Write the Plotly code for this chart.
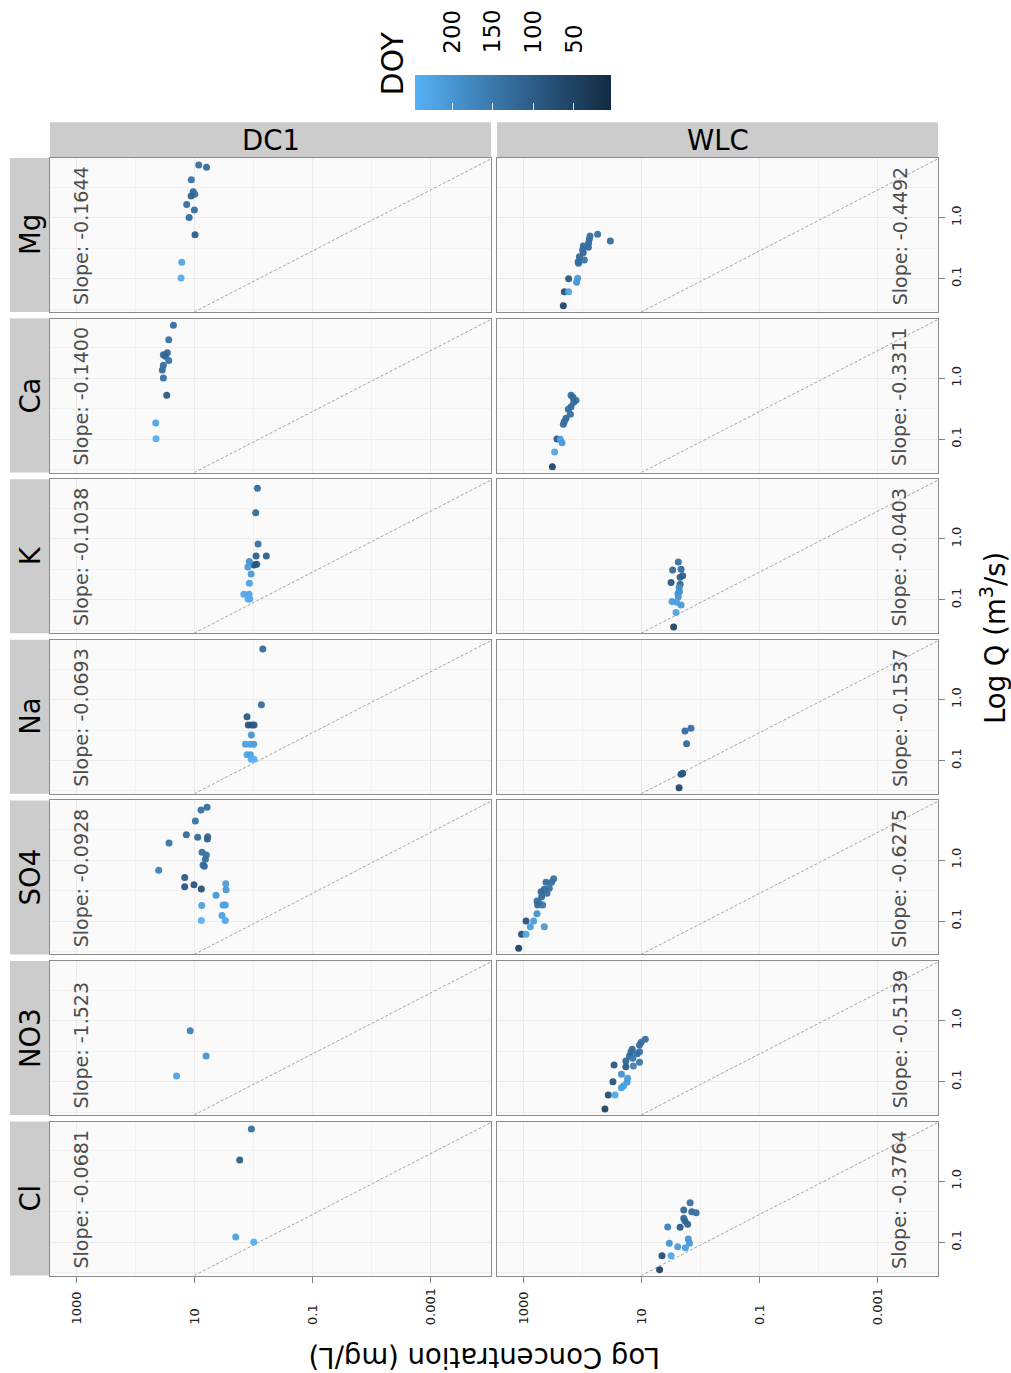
import math
import plotly.graph_objects as go

W, H = 1011, 1373
FONT = "DejaVu Sans"

# ---------------- data ----------------
ELEMENTS = ["Mg", "Ca", "K", "Na", "SO4", "NO3", "Cl"]   # top to bottom
SITES = ["DC1", "WLC"]                                   # left to right

DC1_MG_CONC = [8.4, 6.2, 11.2, 10.4, 9.8, 11.3, 13.4, 9.95, 12.2, 9.7, 16.3, 16.7]
DC1_MG_Q    = [7.31, 6.70, 4.21, 2.67, 2.42, 2.27, 1.64, 1.34, 1.01, 0.527, 0.186, 0.103]
DC1_MG_DOY  = [135, 130, 140, 125, 135, 110, 135, 130, 130, 105, 225, 240]

DC1_CA_CONC = [22.5, 27.0, 28.5, 33.3, 30.8, 27.0, 33.3, 34.7, 33.3, 29.2, 44.8, 44.3]
DC1_CA_Q    = [7.4, 4.3, 2.63, 2.44, 2.3, 1.95, 1.63, 1.37, 1.01, 0.527, 0.185, 0.102]
DC1_CA_DOY  = [130, 140, 125, 130, 115, 140, 135, 130, 135, 100, 220, 240]

DC1_K_CONC = [0.855, 0.912, 0.832, 0.603, 0.90, 0.877, 0.973, 1.17, 1.24, 1.09, 1.17, 1.45, 1.18, 1.23, 1.15]
DC1_K_Q    = [6.76, 2.69, 0.826, 0.525, 0.525, 0.384, 0.374, 0.425, 0.347, 0.266, 0.187, 0.124, 0.124, 0.103, 0.103]
DC1_K_DOY  = [130, 125, 135, 110, 105, 90, 85, 190, 210, 205, 220, 225, 220, 240, 235]

DC1_NA_CONC = [0.693, 0.731, 1.28, 1.22, 1.06, 0.973, 1.08, 1.36, 1.14, 0.984, 1.28, 1.12, 1.08, 0.973]
DC1_NA_Q    = [6.73, 0.822, 0.524, 0.382, 0.382, 0.382, 0.262, 0.185, 0.185, 0.185, 0.124, 0.124, 0.105, 0.105]
DC1_NA_DOY  = [130, 135, 100, 90, 85, 95, 200, 215, 220, 210, 225, 220, 240, 245]

DC1_SO4_CONC = [6.07, 7.67, 9.57, 13.6, 8.73, 5.92, 6.0, 26.7, 7.38, 6.24, 6.49, 7.1, 6.75, 39.9,
                14.5, 14.5, 10.1, 7.59, 2.93, 2.9, 4.28, 7.46, 3.26, 2.98, 3.39, 7.59, 2.98]
DC1_SO4_Q    = [7.35, 6.64, 4.38, 2.61, 2.37, 2.42, 2.22, 1.91, 1.34, 1.21, 1.03, 0.83, 0.79, 0.68,
                0.52, 0.366, 0.395, 0.337, 0.41, 0.327, 0.265, 0.18, 0.184, 0.184, 0.123, 0.102, 0.102]
DC1_SO4_DOY  = [130, 135, 140, 125, 130, 130, 110, 140, 135, 140, 135, 135, 130, 165,
                100, 90, 85, 80, 210, 205, 200, 215, 215, 220, 220, 246, 230]

DC1_NO3_CONC = [11.7, 6.3, 19.9]
DC1_NO3_Q    = [0.687, 0.264, 0.124]
DC1_NO3_DOY  = [165, 200, 220]

DC1_CL_CONC = [1.08, 1.70, 1.99, 0.984]
DC1_CL_Q    = [7.21, 2.23, 0.122, 0.101]
DC1_CL_DOY  = [135, 105, 220, 240]

WLC_MG_CONC = [54.7, 33.3, 73.5, 75.5, 77.6, 78.5, 95.5, 98.2, 95.5, 111, 91.8, 117, 115,
               169, 119, 124, 200, 169, 208]
WLC_MG_Q    = [0.535, 0.415, 0.501, 0.448, 0.389, 0.327, 0.344, 0.296, 0.267, 0.23, 0.203, 0.19, 0.179,
               0.100, 0.102, 0.0873, 0.0612, 0.0612, 0.0361]
WLC_MG_DOY  = [135, 130, 135, 140, 130, 125, 130, 135, 130, 125, 140, 130, 135,
               95, 210, 200, 80, 225, 60]

WLC_CA_CONC = [154, 143, 127, 139, 154, 171, 158, 187, 200, 208, 266, 234, 219, 292, 319]
WLC_CA_Q    = [0.527, 0.489, 0.437, 0.405, 0.343, 0.31, 0.257, 0.221, 0.195, 0.176, 0.101, 0.100, 0.0881, 0.0619, 0.0356]
WLC_CA_DOY  = [135, 130, 140, 130, 125, 130, 135, 125, 130, 135, 90, 215, 205, 225, 60]

WLC_K_CONC = [2.36, 2.94, 2.12, 1.99, 2.2, 3.13, 2.2, 2.29, 2.26, 2.4, 2.36, 3.01, 2.52, 2.12, 2.58, 2.83]
WLC_K_Q    = [0.419, 0.309, 0.318, 0.249, 0.235, 0.192, 0.181, 0.158, 0.137, 0.126, 0.113, 0.0938, 0.0916, 0.0828, 0.0619, 0.0361]
WLC_K_DOY  = [135, 125, 130, 110, 105, 95, 120, 185, 190, 195, 200, 210, 215, 205, 220, 60]

WLC_NA_CONC = [1.44, 1.82, 1.71, 1.99, 2.12, 2.29]
WLC_NA_Q    = [0.337, 0.305, 0.189, 0.0617, 0.0594, 0.0358]
WLC_NA_DOY  = [135, 130, 125, 85, 90, 60]

WLC_SO4_CONC = [303, 328, 408, 359, 437, 393, 495, 484, 579, 530, 466, 566, 579, 889, 662, 752, 437,
                1057, 889, 1186]
WLC_SO4_Q    = [0.496, 0.433, 0.433, 0.345, 0.333, 0.286, 0.303, 0.251, 0.214, 0.196, 0.184, 0.184,
                0.132, 0.100, 0.100, 0.081, 0.081, 0.0608, 0.0608, 0.0358]
WLC_SO4_DOY  = [140, 135, 130, 140, 130, 135, 125, 130, 135, 140, 150, 130, 190, 85, 210, 215, 205,
                70, 225, 55]

WLC_NO3_CONC = [8.55, 10.0, 10.7, 14.2, 14.9, 10.7, 11.7, 15.8, 13.9, 18.2, 10.7, 28.8, 18.2, 13.6,
                21.6, 17.0, 17.4, 19.9, 21.6, 30.1, 36.1, 27.7, 41.1]
WLC_NO3_Q    = [0.496, 0.443, 0.40, 0.34, 0.31, 0.31, 0.288, 0.264, 0.242, 0.219, 0.208, 0.188, 0.176, 0.181,
                0.132, 0.114, 0.0977, 0.0861, 0.0798, 0.100, 0.0605, 0.0605, 0.0357]
WLC_NO3_DOY  = [135, 140, 130, 125, 130, 140, 135, 120, 145, 115, 150, 95, 100, 165,
                190, 210, 205, 215, 210, 85, 75, 225, 55]

WLC_CL_CONC = [1.49, 1.91, 1.40, 1.18, 1.91, 1.82, 1.64, 2.2, 3.57, 1.60, 1.53, 3.35, 2.42, 1.79, 4.45, 3.13, 4.89]
WLC_CL_Q    = [0.446, 0.339, 0.318, 0.306, 0.247, 0.224, 0.197, 0.176, 0.178, 0.113, 0.0964, 0.0964,
               0.0847, 0.0817, 0.0604, 0.0604, 0.0356]
WLC_CL_DOY  = [135, 125, 130, 135, 130, 120, 115, 100, 165, 195, 205, 200, 210, 215, 75, 230, 50]

SLOPES_DC1 = ["-0.1644", "-0.1400", "-0.1038", "-0.0693", "-0.0928", "-1.523", "-0.0681"]
SLOPES_WLC = ["-0.4492", "-0.3311", "-0.0403", "-0.1537", "-0.6275", "-0.5139", "-0.3764"]

CONC_TICKS = [1000, 10, 0.1, 0.001]
CONC_TICK_TEXT = ["1000", "10", "0.1", "0.001"]
CONC_MINOR = [100, 1, 0.01]
Q_TICKS = [0.1, 1.0]
Q_TICK_TEXT = ["0.1", "1.0"]
Q_MINOR = [10 ** -1.5, 10 ** -0.5, 10 ** 0.5]
DOY_TICKS = [200, 150, 100, 50]
DOY_LIMITS = [4, 246]
REF_LOG_INTERCEPT = -2.09   # reference line: log10(C) = a + b*log10(Q)
REF_LOG_SLOPE = -2.0

DATA = {
    ("DC1", "Mg"): (DC1_MG_CONC, DC1_MG_Q, DC1_MG_DOY),
    ("DC1", "Ca"): (DC1_CA_CONC, DC1_CA_Q, DC1_CA_DOY),
    ("DC1", "K"): (DC1_K_CONC, DC1_K_Q, DC1_K_DOY),
    ("DC1", "Na"): (DC1_NA_CONC, DC1_NA_Q, DC1_NA_DOY),
    ("DC1", "SO4"): (DC1_SO4_CONC, DC1_SO4_Q, DC1_SO4_DOY),
    ("DC1", "NO3"): (DC1_NO3_CONC, DC1_NO3_Q, DC1_NO3_DOY),
    ("DC1", "Cl"): (DC1_CL_CONC, DC1_CL_Q, DC1_CL_DOY),
    ("WLC", "Mg"): (WLC_MG_CONC, WLC_MG_Q, WLC_MG_DOY),
    ("WLC", "Ca"): (WLC_CA_CONC, WLC_CA_Q, WLC_CA_DOY),
    ("WLC", "K"): (WLC_K_CONC, WLC_K_Q, WLC_K_DOY),
    ("WLC", "Na"): (WLC_NA_CONC, WLC_NA_Q, WLC_NA_DOY),
    ("WLC", "SO4"): (WLC_SO4_CONC, WLC_SO4_Q, WLC_SO4_DOY),
    ("WLC", "NO3"): (WLC_NO3_CONC, WLC_NO3_Q, WLC_NO3_DOY),
    ("WLC", "Cl"): (WLC_CL_CONC, WLC_CL_Q, WLC_CL_DOY),
}
SLOPES = {"DC1": SLOPES_DC1, "WLC": SLOPES_WLC}

# ---------------- layout geometry (pixels) ----------------
COL_X = [(50, 491), (497, 938)]
ROW_TOP0, ROW_PITCH, ROW_H = 158.0, 160.6, 154.0
TOP_STRIP = (122.3, 158.0)
LEFT_STRIP = (10.0, 50.0)
X_RANGE = [3.44, -4.02]      # log10 concentration (reversed)
Y_RANGE = [-1.546, 0.979]    # log10 Q
SLOPE_X = {"DC1": 2.915, "WLC": -3.367}
CBAR_X = (415.0, 611.0)      # colour bar left/right edge
CBAR_Y = (74.3, 109.3)       # colour bar top/bottom edge
CBAR_SHIFT = 8.0             # plotly's own offset of a horizontal colour bar
CBAR_LABEL_BOTTOM = 55.5

COLORSCALE = [[0.0, "#56B1F7"], [0.25, "#448DC6"], [0.5, "#336A98"],
              [0.75, "#23496D"], [1.0, "#132B43"]]

GRID = "#EBEBEB"
MINOR_GRID = "#F1F1F1"
BORDER = "#8C8C8C"
STRIP_BG = "#CCCCCC"


def fx(px):
    return px / W


def fy(py):
    return 1 - py / H


fig = go.Figure()
annotations = []
shapes = []
layout = {}

for r, el in enumerate(ELEMENTS):
    top = ROW_TOP0 + r * ROW_PITCH
    bot = top + ROW_H
    for c, site in enumerate(SITES):
        idx = r * 2 + c + 1
        sfx = "" if idx == 1 else str(idx)
        xa, ya = "x" + sfx, "y" + sfx
        conc, q, doy = DATA[(site, el)]

        # reference dashed line across the Q range
        q_ends = [10 ** Y_RANGE[0], 10 ** Y_RANGE[1]]
        c_ends = [10 ** (REF_LOG_INTERCEPT + REF_LOG_SLOPE * math.log10(v)) for v in q_ends]
        fig.add_trace(go.Scatter(x=c_ends, y=q_ends, mode="lines", xaxis=xa, yaxis=ya,
                                 line=dict(color="#A3A3A3", width=1, dash="3px,2px"),
                                 hoverinfo="skip", showlegend=False))
        fig.add_trace(go.Scatter(x=conc, y=q, mode="markers", xaxis=xa, yaxis=ya,
                                 marker=dict(size=7, color=[-d for d in doy], coloraxis="coloraxis",
                                             opacity=0.95, line=dict(width=0)),
                                 showlegend=False))

        x0, x1 = COL_X[c]
        bottom_row = r == len(ELEMENTS) - 1
        layout["xaxis" + sfx] = dict(
            type="log", range=X_RANGE, domain=[fx(x0), fx(x1)], anchor=ya,
            tickvals=CONC_TICKS, showticklabels=False,
            ticks="outside" if bottom_row else "", ticklen=6, tickcolor="#7F7F7F", tickwidth=1,
            showgrid=True, gridcolor=GRID, gridwidth=1,
            minor=dict(tickvals=CONC_MINOR, showgrid=True, gridcolor=MINOR_GRID, ticks=""),
            showline=True, mirror=True, linecolor=BORDER, linewidth=1.2, zeroline=False,
        )
        layout["yaxis" + sfx] = dict(
            type="log", range=Y_RANGE, domain=[fy(bot), fy(top)], anchor=xa,
            tickvals=Q_TICKS, ticktext=Q_TICK_TEXT, side="right" if c == 1 else "left",
            showticklabels=(c == 1), tickangle=-90,
            tickfont=dict(family=FONT, size=13, color="#222222"),
            ticks="outside" if c == 1 else "", ticklen=6, tickcolor="#7F7F7F", tickwidth=1,
            showgrid=True, gridcolor=GRID, gridwidth=1,
            minor=dict(tickvals=Q_MINOR, showgrid=True, gridcolor=MINOR_GRID, ticks=""),
            showline=True, mirror=True, linecolor=BORDER, linewidth=1.2, zeroline=False,
        )

        # slope label
        annotations.append(dict(
            text="Slope: " + SLOPES[site][r], xref=xa, yref=ya + " domain",
            x=SLOPE_X[site], y=0.03, xanchor="center", yanchor="bottom",
            textangle=-90, showarrow=False,
            font=dict(family=FONT, size=19, color="#4D4D4D")))

        # bottom tick labels (concentration)
        if bottom_row:
            for v, t in zip(CONC_TICKS, CONC_TICK_TEXT):
                annotations.append(dict(
                    text=t, xref=xa, yref="paper", x=math.log10(v), y=fy(1327),
                    xanchor="center", yanchor="bottom", textangle=-90, showarrow=False,
                    font=dict(family=FONT, size=13, color="#222222")))

    # left strip for element
    shapes.append(dict(type="rect", xref="paper", yref="paper", layer="below",
                       x0=fx(LEFT_STRIP[0]), x1=fx(LEFT_STRIP[1]), y0=fy(bot), y1=fy(top),
                       fillcolor=STRIP_BG, line=dict(width=0)))
    annotations.append(dict(text=el, xref="paper", yref="paper",
                            x=fx(sum(LEFT_STRIP) / 2), y=fy((top + bot) / 2),
                            xanchor="center", yanchor="middle", textangle=-90, showarrow=False,
                            font=dict(family=FONT, size=27.5, color="black")))

# top strips for sites
for c, site in enumerate(SITES):
    x0, x1 = COL_X[c]
    shapes.append(dict(type="rect", xref="paper", yref="paper", layer="below",
                       x0=fx(x0), x1=fx(x1), y0=fy(TOP_STRIP[1]), y1=fy(TOP_STRIP[0]),
                       fillcolor=STRIP_BG, line=dict(width=0)))
    annotations.append(dict(text=site, xref="paper", yref="paper",
                            x=fx((x0 + x1) / 2), y=fy(sum(TOP_STRIP) / 2),
                            xanchor="center", yanchor="middle", showarrow=False,
                            font=dict(family=FONT, size=27.5, color="black")))

# axis titles
annotations.append(dict(text="Log Q (m<sup>3</sup>/s)", xref="paper", yref="paper",
                        x=fx(993), y=fy(638), xanchor="center", yanchor="middle",
                        textangle=-90, showarrow=False,
                        font=dict(family=FONT, size=27.5, color="black")))
annotations.append(dict(text="Log Concentration (mg/L)", xref="paper", yref="paper",
                        x=fx(485), y=fy(1358), xanchor="center", yanchor="middle",
                        textangle=180, showarrow=False,
                        font=dict(family=FONT, size=27.5, color="black")))
# colour bar title
annotations.append(dict(text="DOY", xref="paper", yref="paper",
                        x=fx(391.5), y=fy(64), xanchor="center", yanchor="middle",
                        textangle=-90, showarrow=False,
                        font=dict(family=FONT, size=30, color="black")))

# colour bar labels (high DOY on the left, as in the reference)
span = DOY_LIMITS[1] - DOY_LIMITS[0]
for v in DOY_TICKS:
    px = CBAR_X[0] + (DOY_LIMITS[1] - v) / span * (CBAR_X[1] - CBAR_X[0])
    annotations.append(dict(text=str(v), xref="paper", yref="paper",
                            x=fx(px), y=fy(CBAR_LABEL_BOTTOM), xanchor="center", yanchor="bottom",
                            textangle=-90, showarrow=False,
                            font=dict(family=FONT, size=23, color="black")))

layout["coloraxis"] = dict(
    colorscale=COLORSCALE, cmin=-DOY_LIMITS[1], cmax=-DOY_LIMITS[0],
    colorbar=dict(
        orientation="h", x=fx(sum(CBAR_X) / 2), xanchor="center",
        y=fy(CBAR_Y[1] + CBAR_SHIFT), yanchor="bottom",
        len=CBAR_X[1] - CBAR_X[0], lenmode="pixels",
        thickness=CBAR_Y[1] - CBAR_Y[0], thicknessmode="pixels",
        outlinewidth=0, xpad=0, ypad=0,
        tickvals=[-v for v in DOY_TICKS], showticklabels=False,
        ticks="inside", ticklen=7, tickcolor="rgba(255,255,255,0.85)", tickwidth=1,
    ),
)

fig.update_layout(
    width=W, height=H, margin=dict(l=0, r=0, t=0, b=0),
    paper_bgcolor="white", plot_bgcolor="#FAFAFA",
    showlegend=False, annotations=annotations, shapes=shapes,
    font=dict(family=FONT),
    **layout,
)

fig.write_html("out.html")
